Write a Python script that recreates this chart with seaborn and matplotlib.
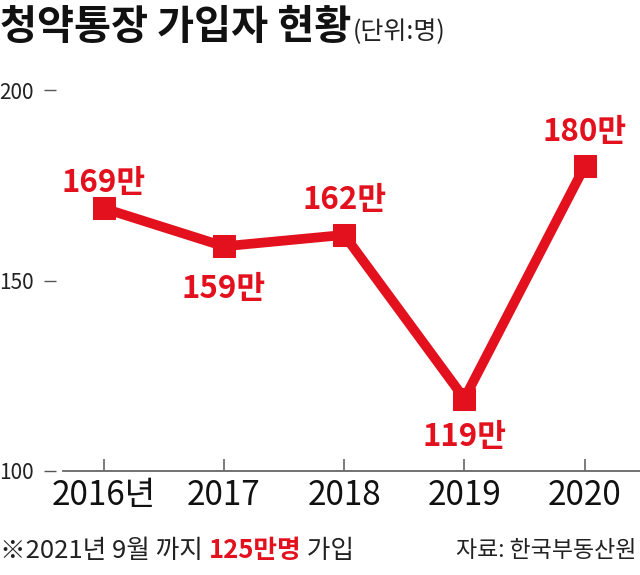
import matplotlib
matplotlib.use("Agg")
import matplotlib.pyplot as plt
import seaborn as sns
import pandas as pd

# data
years = [2016, 2017, 2018, 2019, 2020]
year_labels = ["2016년", "2017", "2018", "2019", "2020"]
subscribers = [169, 159, 162, 119, 180]  # 만 명
value_labels = ["169만", "159만", "162만", "119만", "180만"]
yticks = [100, 150, 200]

# label offsets in points (above > 0, below < 0)
label_offsets = [18, -31, 25, -28, 25]

RED = "#e3101d"
DARK = "#222222"

sns.set_theme(style="white")
plt.rcParams['font.family'] = ['Noto Sans CJK KR', 'DejaVu Sans']

df = pd.DataFrame({"year": years, "value": subscribers})

fig = plt.figure(figsize=(6.4, 5.75), dpi=100)
ax = fig.add_axes([0.098, 0.181, 0.902, 0.662])

# spine position first: moving it resets the tick objects
for s in ["top", "right", "left"]:
    ax.spines[s].set_visible(False)
ax.spines["left"].set_position(("outward", 5))
ax.spines["bottom"].set_color("#666666")
ax.spines["bottom"].set_linewidth(1.3)

sns.lineplot(data=df, x="year", y="value", ax=ax, color=RED, linewidth=7,
             marker="s", markersize=16, markeredgecolor=RED, markerfacecolor=RED,
             solid_joinstyle="round")

for x, y, txt, off in zip(years, subscribers, value_labels, label_offsets):
    ax.annotate(txt, (x, y), xytext=(0, off), textcoords="offset points",
                ha="center", va="center", color=RED, fontsize=22.5,
                fontweight="bold", annotation_clip=False)

ax.set_xlim(2015.66, 2020.46)
ax.set_ylim(100, 200)
ax.set_xticks(years)
ax.set_xticklabels(year_labels, fontsize=24, color="#111111")
ax.set_yticks(yticks)
ax.set_yticklabels([str(t) for t in yticks], fontsize=15, color=DARK)
ax.set_xlabel("")
ax.set_ylabel("")

ax.tick_params(axis="x", bottom=True, direction="in", length=9, width=1.2,
               color="#666666", pad=5)
ax.tick_params(axis="y", left=True, direction="out", length=9, width=1.0,
               color="#555555", pad=7)

# title
fig.canvas.draw()
r = fig.canvas.get_renderer()
title = fig.text(0.0, 0.953, "청약통장 가입자 현황", fontsize=29, fontweight="bold",
                 color="#111111", va="center", ha="left")
tw = title.get_window_extent(renderer=r).width / fig.bbox.width
fig.text(tw + 0.002, 0.945, "(단위:명)", fontsize=18, color=DARK,
         va="center", ha="left")

# footnote with mixed styling, pieces chained left to right
parts = [("※2021년 9월 까지 ", DARK, "normal"),
         ("125만명", RED, "bold"),
         (" 가입", DARK, "normal")]
xpos = 0.0
for txt, col, wt in parts:
    t = fig.text(xpos, 0.042, txt, fontsize=18.5, color=col, fontweight=wt,
                 va="center", ha="left")
    xpos += t.get_window_extent(renderer=r).width / fig.bbox.width

fig.text(0.995, 0.042, "자료: 한국부동산원", fontsize=16.5, color=DARK,
         va="center", ha="right")

fig.savefig("out.png", dpi=100)
